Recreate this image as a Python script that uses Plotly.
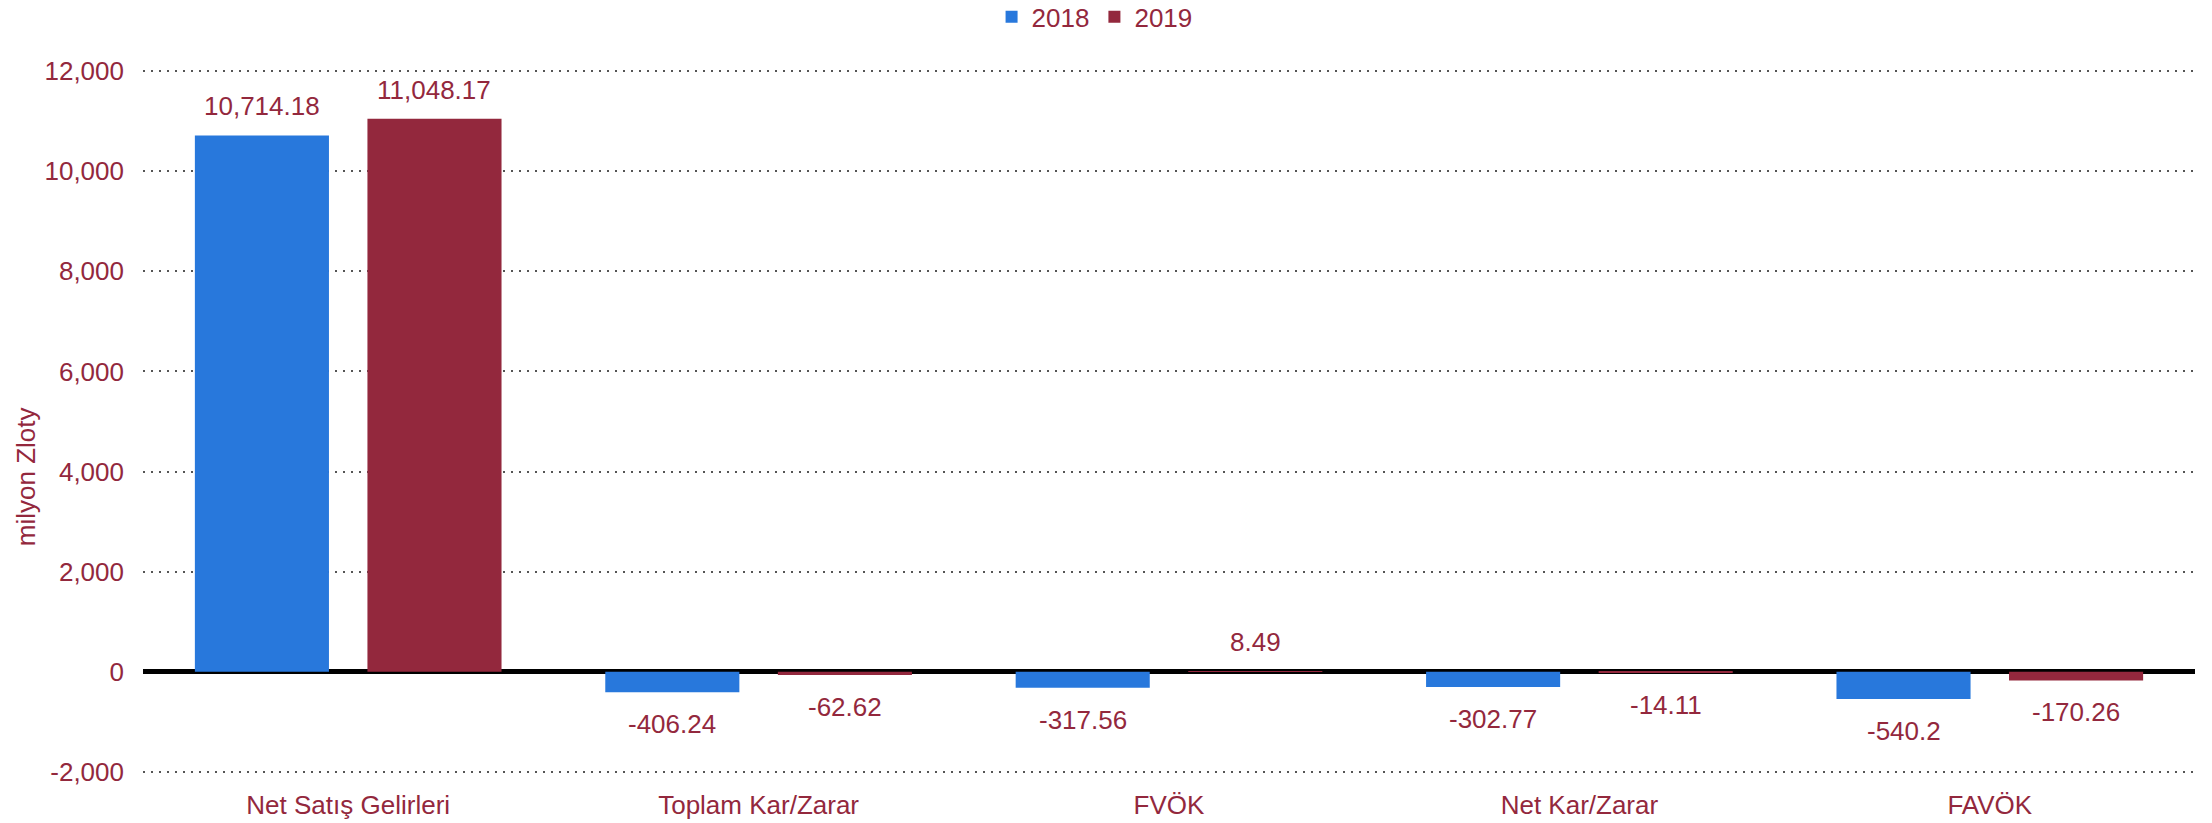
import plotly.graph_objects as go

categories = ["Net Satış Gelirleri", "Toplam Kar/Zarar", "FVÖK", "Net Kar/Zarar", "FAVÖK"]
series_names = ["2018", "2019"]
values_2018 = [10714.18, -406.24, -317.56, -302.77, -540.2]
values_2019 = [11048.17, -62.62, 8.49, -14.11, -170.26]
label_2018 = ["10,714.18", "-406.24", "-317.56", "-302.77", "-540.2"]
label_2019 = ["11,048.17", "-62.62", "8.49", "-14.11", "-170.26"]
y_ticks = [-2000, 0, 2000, 4000, 6000, 8000, 10000, 12000]
y_ticktext = [f"{v:,}" for v in y_ticks]

# page body has an 8px default margin, so the figure is 16px smaller
W, H = 2204, 815
ML, MR, MT, MB = 135, 17, 61, 49
BARGAP = 0.159
BARGROUPGAP = 0.223
BLUE = "#2878DC"
RED = "#93283D"
TXT = "#93283D"
FONT = "Liberation Sans, Arial, sans-serif"
FS = 26

fig = go.Figure()
fig.add_trace(go.Bar(name=series_names[0], x=categories, y=values_2018,
                     marker=dict(color=BLUE, line=dict(width=0))))
fig.add_trace(go.Bar(name=series_names[1], x=categories, y=values_2019,
                     marker=dict(color=RED, line=dict(width=0))))

plot_w = W - ML - MR
slot = plot_w / len(categories) * (1 - BARGAP) / 2
offsets = [-slot / 2, slot / 2]

annotations = []
for k, (vals, labs) in enumerate([(values_2018, label_2018), (values_2019, label_2019)]):
    for c, v, t in zip(categories, vals, labs):
        pos = v >= 0
        annotations.append(dict(
            x=c, y=v, xref="x", yref="y", text=t, showarrow=False,
            xshift=offsets[k], yshift=12 if pos else -15,
            yanchor="bottom" if pos else "top", xanchor="center",
            font=dict(family=FONT, size=FS, color=TXT)))

annotations.append(dict(
    x=0, y=0.421, xref="paper", yref="paper", xshift=-117, text="milyon Zloty",
    textangle=-90, showarrow=False, xanchor="center", yanchor="middle",
    font=dict(family=FONT, size=FS, color=TXT)))

fig.update_layout(
    width=W, height=H,
    margin=dict(l=ML, r=MR, t=MT, b=MB, autoexpand=False),
    barmode="group", bargap=BARGAP, bargroupgap=BARGROUPGAP,
    plot_bgcolor="white", paper_bgcolor="white",
    font=dict(family=FONT, size=FS, color=TXT),
    showlegend=True,
    legend=dict(orientation="h", x=0.493, xref="container", xanchor="center",
                y=0.989, yref="container", yanchor="middle",
                font=dict(family=FONT, size=FS, color=TXT),
                itemwidth=30, bgcolor="rgba(0,0,0,0)"),
    annotations=annotations,
    xaxis=dict(showgrid=False, showline=False, ticks="", ticklabelstandoff=13,
               tickangle=0, automargin=False,
               tickfont=dict(family=FONT, size=FS, color=TXT)),
    yaxis=dict(range=[-2040, 12040], tickvals=y_ticks, ticktext=y_ticktext,
               showgrid=True, gridcolor="#555555", gridwidth=2, griddash="2px,6px",
               zeroline=True, zerolinecolor="black", zerolinewidth=5,
               showline=False, ticks="", ticklabelstandoff=18, automargin=False,
               tickfont=dict(family=FONT, size=FS, color=TXT)),
)

fig.write_html("out.html")
